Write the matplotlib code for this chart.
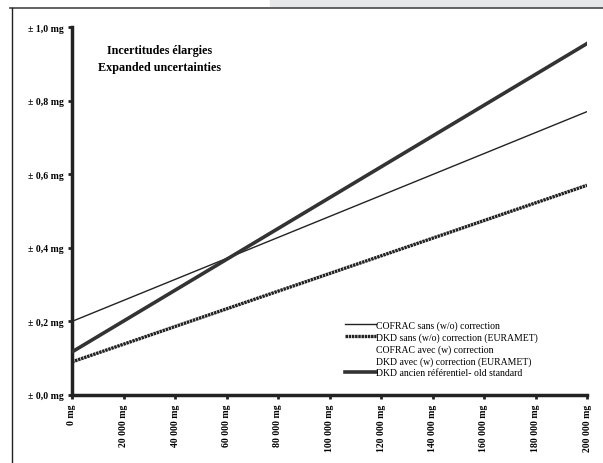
import numpy as np
import matplotlib.pyplot as plt
from matplotlib.lines import Line2D

# ****************************** DATA ******************************
masses = [0, 200000]  # mg
cofrac_sans = [0.20, 0.77]
dkd_sans = [0.09, 0.57]
cofrac_avec = [0.20, 0.74]
dkd_avec = [0.09, 0.55]
dkd_ancien = [0.117, 0.955]

yticks = [0.0, 0.2, 0.4, 0.6, 0.8, 1.0]
ytick_labels = ["± 0,0 mg", "± 0,2 mg", "± 0,4 mg", "± 0,6 mg", "± 0,8 mg", "± 1,0 mg"]
xticks = [0, 20000, 40000, 60000, 80000, 100000, 120000, 140000, 160000, 180000, 200000]
xtick_labels = ["0 mg", "20 000 mg", "40 000 mg", "60 000 mg", "80 000 mg", "100 000 mg",
                "120 000 mg", "140 000 mg", "160 000 mg", "180 000 mg", "200 000 mg"]
# *******************************************************************

plt.rcParams['font.family'] = ['Liberation Serif', 'DejaVu Serif']
plt.rcParams['lines.scale_dashes'] = False

fig = plt.figure(figsize=(6.03, 4.64), dpi=100)

# page decoration around the chart
fig.patches.append(plt.Rectangle((270/603, 1-8/464), 1, 8/464, transform=fig.transFigure,
                                 color='#e6e7e8', zorder=0))
fig.add_artist(Line2D([10/603, 1], [1-9/464, 1-9/464], transform=fig.transFigure,
                      color='#555555', lw=1.3))
fig.add_artist(Line2D([12/603, 12/603], [0, 1-9/464], transform=fig.transFigure,
                      color='#222222', lw=1.0))

ax = fig.add_axes([72/603, 1-396/464, 515/603, 368/464])

# the "avec" series are drawn in white in the original, below the others
ax.plot(masses, cofrac_sans, color='#222222', lw=1.0, zorder=3, label='COFRAC sans (w/o) correction')
ax.plot(masses, dkd_sans, color='#222222', lw=2.4, linestyle=(0, (1.8, 0.5)), zorder=3,
        label='DKD sans (w/o) correction (EURAMET)')
ax.plot(masses, cofrac_avec, color='white', lw=1.0, zorder=1, label='COFRAC avec (w) correction')
ax.plot(masses, dkd_avec, color='white', lw=1.0, zorder=1, label='DKD avec (w) correction (EURAMET)')
ax.plot(masses, dkd_ancien, color='#333333', lw=2.6, zorder=3,
        label='DKD ancien référentiel- old standard')

ax.set_xlim(0, 200000)
ax.set_ylim(0, 1.0)
ax.set_yticks(yticks)
ax.set_yticklabels(ytick_labels, fontsize=7, fontweight='bold')
ax.set_xticks(xticks)
ax.set_xticklabels(xtick_labels, fontsize=7, fontweight='bold', rotation=90)

for s in ['top', 'right']:
    ax.spines[s].set_visible(False)
for s in ['left', 'bottom']:
    ax.spines[s].set_linewidth(2.5)
    ax.spines[s].set_color('#222222')
ax.tick_params(direction='out', length=3, width=2, color='#222222', pad=3)

ax.text(0.17, 0.915, "Incertitudes élargies\nExpanded uncertainties", transform=ax.transAxes,
        ha='center', va='center', fontsize=8.7, fontweight='bold', linespacing=1.5)

ax.legend(loc='lower left', bbox_to_anchor=(0.52, 0.035), frameon=False, fontsize=7,
          handlelength=3.2, handletextpad=0.0, labelspacing=0.25, borderpad=0)

fig.savefig('out.png', dpi=100)
